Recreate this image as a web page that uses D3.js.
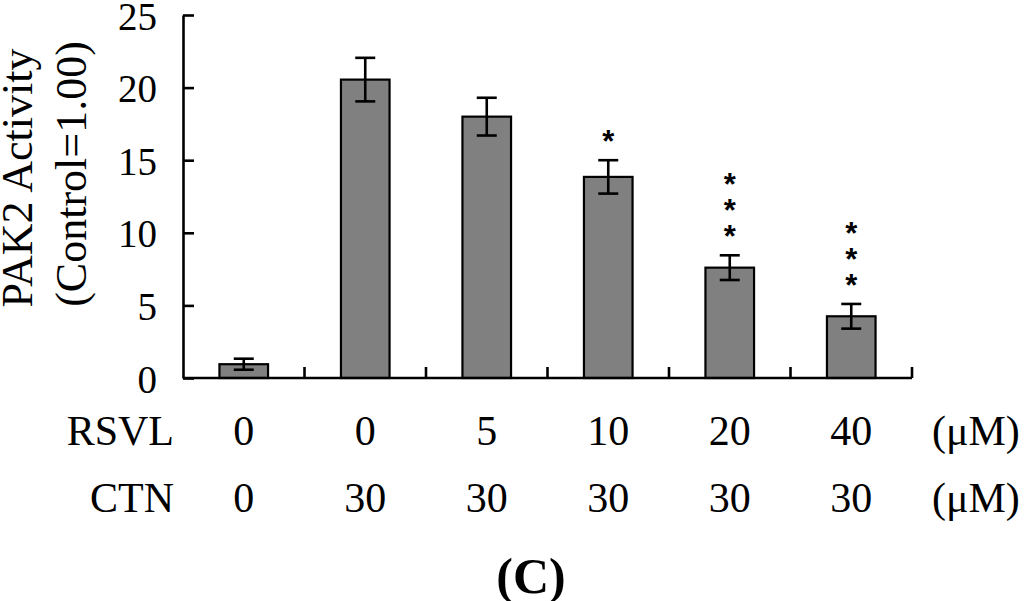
<!DOCTYPE html>
<html>
<head>
<meta charset="utf-8">
<script src="https://cdn.jsdelivr.net/npm/d3@7.9.0/dist/d3.min.js"></script>
<style>
  body { margin: 0; background: #fff; }
  svg text { font-family: "Liberation Serif"; }
</style>
</head>
<body>
<div id="chart"></div>
<script>
// PAK2 activity for each treatment group
const rsvl = ["0", "0", "5", "10", "20", "40"];
const ctn = ["0", "30", "30", "30", "30", "30"];
const activity = [0.95, 20.55, 18.0, 13.85, 7.6, 4.25];
const errors = [0.38, 1.5, 1.3, 1.15, 0.85, 0.85];
const stars = [0, 0, 0, 1, 3, 3];
const yTicks = [0, 5, 10, 15, 20, 25];

const serif = "Liberation Serif";
const width = 1024, height = 601;
const margin = { top: 15, right: 112, bottom: 223, left: 183 };

const svg = d3.select("#chart").append("svg")
    .attr("width", width)
    .attr("height", height);

const x = d3.scaleBand()
    .domain(d3.range(activity.length))
    .range([margin.left, width - margin.right])
    .paddingInner(0).paddingOuter(0);

const y = d3.scaleLinear()
    .domain([0, 25])
    .range([height - margin.bottom, margin.top]);

const barW = x.bandwidth() * 0.4;
const cx = i => x(i) + x.bandwidth() / 2;

// bars
svg.append("g").selectAll("rect")
    .data(activity)
    .join("rect")
    .attr("x", (d, i) => cx(i) - barW / 2)
    .attr("y", d => y(d))
    .attr("width", barW)
    .attr("height", d => y(0) - y(d))
    .attr("fill", "#808080")
    .attr("stroke", "#000")
    .attr("stroke-width", 2.2);

// error bars
const err = svg.append("g").attr("stroke", "#000").attr("stroke-width", 2.6);
activity.forEach((v, i) => {
    const top = y(v + errors[i]), bot = y(v - errors[i]);
    err.append("line").attr("x1", cx(i)).attr("x2", cx(i)).attr("y1", top).attr("y2", bot);
    err.append("line").attr("x1", cx(i) - 10).attr("x2", cx(i) + 10).attr("y1", top).attr("y2", top);
    err.append("line").attr("x1", cx(i) - 10).attr("x2", cx(i) + 10).attr("y1", bot).attr("y2", bot);
});

// significance stars, stacked above the error bar (one text per bar)
activity.forEach((v, i) => {
    if (!stars[i]) return;
    const base = y(v + errors[i]);
    const t = svg.append("text")
        .attr("text-anchor", "middle")
        .attr("font-family", "Liberation Sans")
        .style("font-family", "Liberation Sans")
        .style("font-weight", "bold")
        .style("font-size", "31px");
    for (let k = 0; k < stars[i]; k++) {
        t.append("tspan")
            .attr("x", cx(i))
            .attr("y", base - 26 - 26 * (stars[i] - 1 - k) + 18)
            .text("*");
    }
});

// y axis, ticks pointing inward
const yAxis = svg.append("g")
    .attr("transform", `translate(${margin.left},0)`)
    .call(d3.axisLeft(y).tickValues(yTicks).tickSizeInner(-11).tickSizeOuter(0).tickPadding(26))
    .attr("font-family", serif);
yAxis.select(".domain").attr("stroke-width", 2.6);
yAxis.selectAll(".tick line").attr("stroke-width", 2.6);
yAxis.selectAll(".tick text")
    .attr("font-family", serif)
    .style("font-family", serif)
    .style("font-size", "39px")
    .attr("dy", "0.36em");

// x axis line with separators between groups
const x0 = margin.left, x1 = width - margin.right;
svg.append("line")
    .attr("x1", x0).attr("x2", x1)
    .attr("y1", y(0)).attr("y2", y(0))
    .attr("stroke", "#000").attr("stroke-width", 2.6);
svg.append("g").selectAll("line")
    .data(d3.range(activity.length))
    .join("line")
    .attr("x1", i => x(i) + x.bandwidth()).attr("x2", i => x(i) + x.bandwidth())
    .attr("y1", y(0)).attr("y2", y(0) - 11)
    .attr("stroke", "#000").attr("stroke-width", 2.6);

// treatment rows
const rows = [{ name: "RSVL", vals: rsvl, yPos: 445 }, { name: "CTN", vals: ctn, yPos: 512 }];
rows.forEach(r => {
    svg.append("text")
        .attr("x", 174).attr("y", r.yPos)
        .attr("text-anchor", "end")
        .attr("font-family", serif)
        .style("font-size", "42px")
        .text(r.name);
    svg.append("g").selectAll("text")
        .data(r.vals)
        .join("text")
        .attr("x", (d, i) => cx(i))
        .attr("y", r.yPos)
        .attr("text-anchor", "middle")
        .attr("font-family", serif)
        .style("font-size", "42px")
        .text(d => d);
    svg.append("text")
        .attr("x", 932).attr("y", r.yPos)
        .attr("font-family", serif)
        .style("font-size", "42px")
        .text("(\u03bcM)");
});

// y axis title
svg.append("text")
    .attr("transform", "translate(32,178) rotate(-90)")
    .attr("text-anchor", "middle")
    .attr("font-family", serif)
    .style("font-size", "44px")
    .text("PAK2 Activity");
svg.append("text")
    .attr("transform", "translate(86,174) rotate(-90)")
    .attr("text-anchor", "middle")
    .attr("font-family", serif)
    .style("font-size", "44px")
    .text("(Control=1.00)");

// panel label
svg.append("text")
    .attr("x", 531).attr("y", 593)
    .attr("text-anchor", "middle")
    .attr("font-family", serif)
    .style("font-size", "50px")
    .style("font-weight", "bold")
    .text("(C)");
</script>
</body>
</html>
